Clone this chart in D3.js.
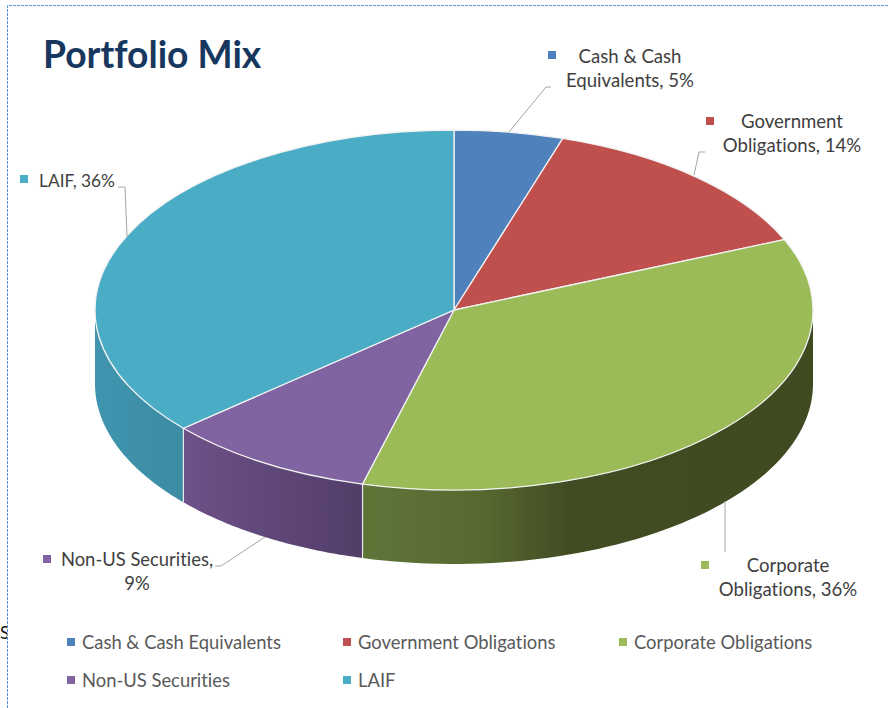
<!DOCTYPE html>
<html>
<head>
<meta charset="utf-8">
<title>Portfolio Mix</title>
<script src="https://cdn.jsdelivr.net/npm/d3@7"></script>
<style>
	html, body { margin: 0; padding: 0; background: #fff; }
	svg { display: block; }
	text { font-family: Lato, "Open Sans", sans-serif; font-variant-ligatures: none; }
</style>
</head>
<body>
<svg id="chart" width="888" height="708"></svg>
<script>
'use strict';

var categories = ['Cash & Cash Equivalents', 'Government Obligations', 'Corporate Obligations', 'Non-US Securities', 'LAIF'];
// unrounded shares estimated from the slice boundaries, labels show them rounded
var shares = [4.9, 13.7, 35.5, 9.49, 36.41];
var labelLines = [
	['Cash & Cash', 'Equivalents, '],
	['Government', 'Obligations, '],
	['Corporate', 'Obligations, '],
	['Non-US Securities,', ''],
	['LAIF, ']
];
var colors = ['#4f81bd', '#c0504d', '#9bbb59', '#8064a2', '#4bacc6'];

var width = 888, height = 708;
var cx = 454, cy = 310, rx = 359, ry = 180, depth = 74;

var labelPos = [
	{ x: 630, y: 63, swatchX: 548, swatchY: 51, size: 18.6 },
	{ x: 792, y: 128, swatchX: 706, swatchY: 117, size: 18.6 },
	{ x: 788, y: 572, swatchX: 701, swatchY: 561, size: 18.6 },
	{ x: 137, y: 566, swatchX: 43, swatchY: 555, size: 18.4 },
	{ x: 77, y: 187, swatchX: 20, swatchY: 175, size: 17.3 }
];
var leaders = [
	[[509, 132], [546, 87], [551, 87]],
	[[694, 175], [699, 152], [705, 152]],
	[[725, 501], [725, 552]],
	[[265, 537], [221, 566], [215, 566]],
	[[118, 187], [125, 187], [127, 236]]
];
var legendPos = [[67, 649], [343, 649], [619, 649], [67, 687], [343, 687]];

// wall shading, left to right
var wallStops = {
	2: [[362, '#5f7538'], [480, '#586930'], [570, '#414c23'], [813, '#3f4a21']],
	3: [[183, '#6d5189'], [362, '#523d68']],
	4: [[95, '#4095ae'], [183, '#3b8ba3']]
};

var svg = d3.select('#chart');
var defs = svg.append('defs');

var pie = d3.pie().sort(null).value(function(d) { return d; });
var slices = pie(shares);

var px = function(a) { return cx + rx * Math.sin(a); };
var py = function(a) { return cy - ry * Math.cos(a); };

/**
 * Outline of the visible side wall of a slice, null if it faces away.
 */
var wallPath = function(d) {
	var a0 = Math.max(d.startAngle, Math.PI / 2);
	var a1 = Math.min(d.endAngle, Math.PI * 1.5);
	if(a1 <= a0) {
		return null;
	}
	var step = (a1 - a0) / 60;
	var angles = d3.range(61).map(function(i) { return a0 + i * step; });
	var top = angles.map(function(a) { return [px(a), py(a)]; });
	var bottom = angles.slice().reverse().map(function(a) { return [px(a), py(a) + depth]; });
	return d3.line()(top.concat(bottom)) + 'Z';
};

// page frame
svg.append('path')
	.attr('d', 'M7.5,708V5.5H888')
	.attr('fill', 'none')
	.attr('stroke', '#5f8fd8')
	.attr('stroke-width', 1)
	.attr('stroke-dasharray', '3 1');

// stray glyph cut off by the frame
defs.append('clipPath').attr('id', 'strayClip')
	.append('rect').attr('x', 0).attr('y', 620).attr('width', 7).attr('height', 30);
svg.append('text')
	.attr('x', 0)
	.attr('y', 639)
	.attr('clip-path', 'url(#strayClip)')
	.attr('font-size', 17)
	.attr('fill', '#111')
	.text('S');

svg.append('text')
	.attr('x', 43)
	.attr('y', 68)
	.attr('font-size', 37.2)
	.attr('font-weight', 700)
	.attr('fill', '#17375e')
	.text('Portfolio Mix');

Object.keys(wallStops).forEach(function(i) {
	var stops = wallStops[i];
	var grad = defs.append('linearGradient')
		.attr('id', 'wall' + i)
		.attr('gradientUnits', 'userSpaceOnUse')
		.attr('x1', stops[0][0]).attr('y1', 0)
		.attr('x2', stops[stops.length - 1][0]).attr('y2', 0);
	stops.forEach(function(s) {
		grad.append('stop')
			.attr('offset', (s[0] - stops[0][0]) / (stops[stops.length - 1][0] - stops[0][0]))
			.attr('stop-color', s[1]);
	});
});

svg.append('g').selectAll('path')
	.data(slices.filter(wallPath))
	.enter()
	.append('path')
	.attr('d', wallPath)
	.attr('fill', function(d) { return 'url(#wall' + d.index + ')'; });

// white seams between the walls
svg.append('g').selectAll('line')
	.data(slices.filter(function(d) { return d.endAngle > Math.PI / 2 && d.endAngle < Math.PI * 1.5; }))
	.enter()
	.append('line')
	.attr('x1', function(d) { return px(d.endAngle); })
	.attr('x2', function(d) { return px(d.endAngle); })
	.attr('y1', function(d) { return py(d.endAngle); })
	.attr('y2', function(d) { return py(d.endAngle) + depth; })
	.attr('stroke', '#e8e8ee')
	.attr('stroke-width', 1.2);

var arc = d3.arc().innerRadius(0).outerRadius(rx);

svg.append('g')
	.attr('transform', 'translate(' + cx + ',' + cy + ') scale(1,' + (ry / rx) + ')')
	.selectAll('path')
	.data(slices)
	.enter()
	.append('path')
	.attr('d', arc)
	.attr('fill', function(d) { return colors[d.index]; })
	.attr('stroke', '#f2f2f2')
	.attr('stroke-width', 1.3)
	.attr('vector-effect', 'non-scaling-stroke');

// leader lines
svg.append('g').selectAll('path')
	.data(leaders)
	.enter()
	.append('path')
	.attr('d', d3.line())
	.attr('fill', 'none')
	.attr('stroke', '#a6a6a6')
	.attr('stroke-width', 1);

// data labels
var percent = d3.format('.0f');
var labels = svg.append('g').selectAll('g')
	.data(slices)
	.enter()
	.append('g');

labels.append('rect')
	.attr('x', function(d) { return labelPos[d.index].swatchX; })
	.attr('y', function(d) { return labelPos[d.index].swatchY; })
	.attr('width', 8)
	.attr('height', 8)
	.attr('fill', function(d) { return colors[d.index]; });

labels.selectAll('text')
	.data(function(d) {
		var lines = labelLines[d.index].slice();
		lines[lines.length - 1] += percent(d.value) + '%';
		return lines.map(function(t, i) { return { t: t, i: i, pos: labelPos[d.index] }; });
	})
	.enter()
	.append('text')
	.attr('x', function(d) { return d.pos.x; })
	.attr('y', function(d) { return d.pos.y + d.i * 24; })
	.attr('text-anchor', 'middle')
	.attr('font-size', function(d) { return d.pos.size; })
	.attr('fill', '#404040')
	.text(function(d) { return d.t; });

// legend
var legend = svg.append('g').selectAll('g')
	.data(categories)
	.enter()
	.append('g')
	.attr('transform', function(d, i) { return 'translate(' + legendPos[i][0] + ',' + legendPos[i][1] + ')'; });

legend.append('rect')
	.attr('y', -11)
	.attr('width', 8)
	.attr('height', 8)
	.attr('fill', function(d, i) { return colors[i]; });

legend.append('text')
	.attr('x', 15)
	.attr('font-size', 18.4)
	.attr('fill', '#595959')
	.text(function(d) { return d; });
</script>
</body>
</html>
